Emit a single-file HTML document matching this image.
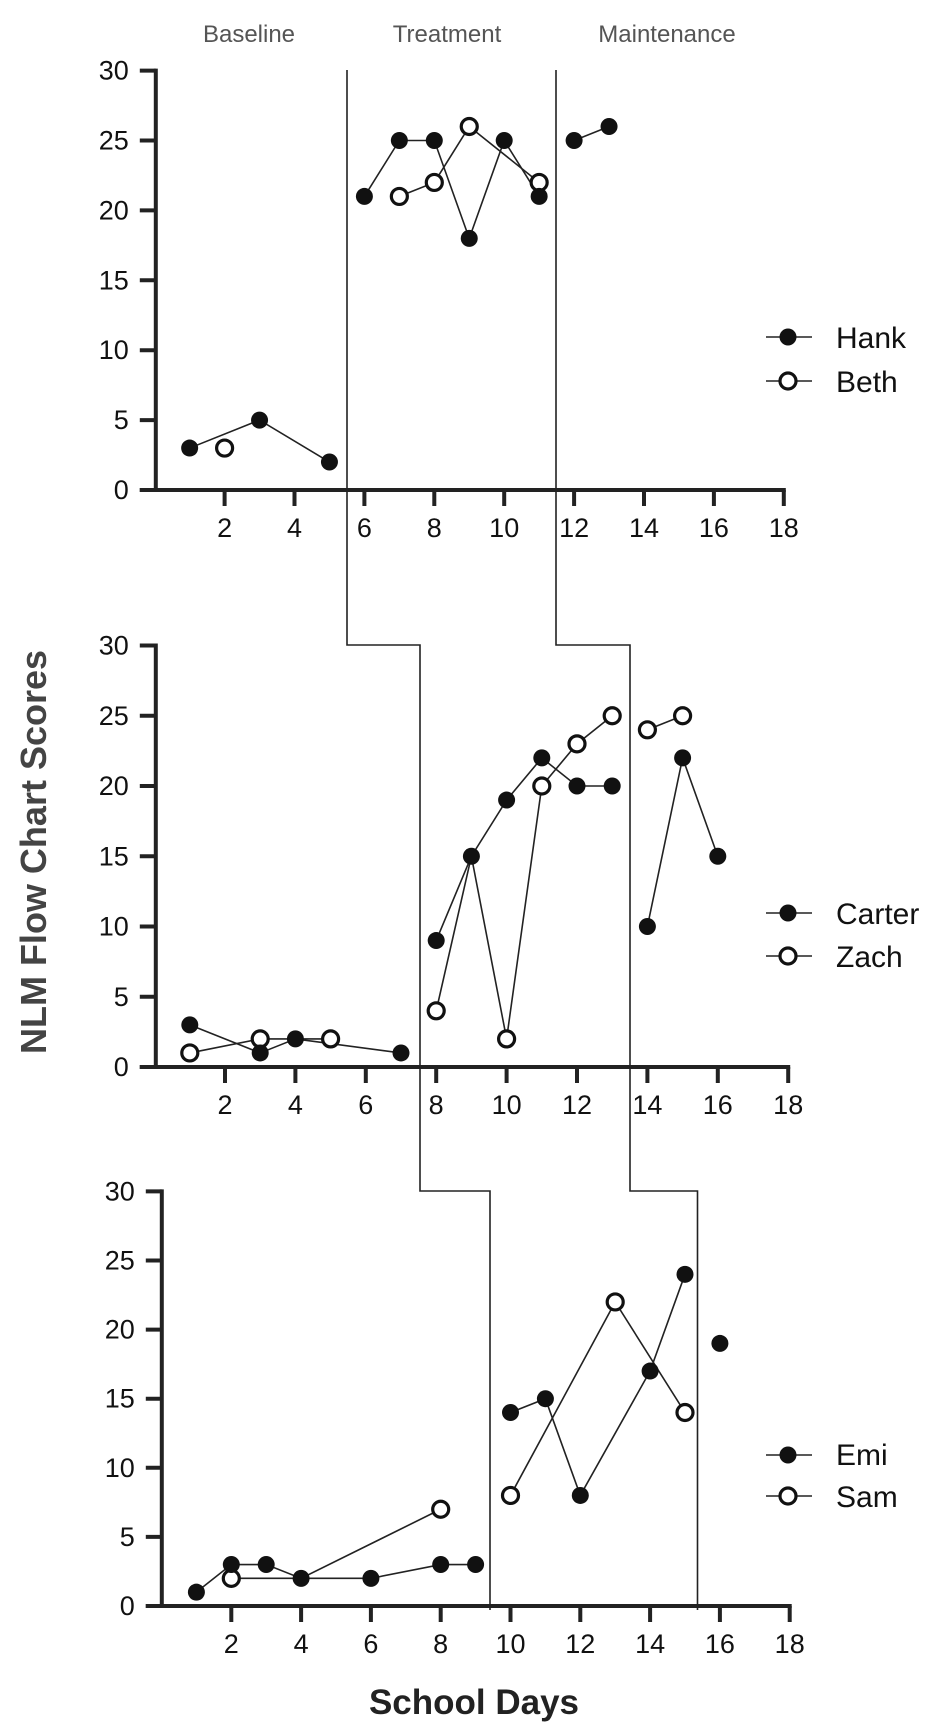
<!DOCTYPE html>
<html><head><meta charset="utf-8"><style>
html,body{margin:0;padding:0;background:#fff;}
svg{display:block;font-family:"Liberation Sans",Arial,sans-serif;}
</style></head><body>
<svg id="s" width="942" height="1724" viewBox="0 0 942 1724" xmlns="http://www.w3.org/2000/svg">
<rect width="942" height="1724" fill="#fff"/>
<g font-size="24" fill="#555" text-anchor="middle">
<text x="249" y="42">Baseline</text>
<text x="447" y="42">Treatment</text>
<text x="667" y="42">Maintenance</text>
</g>
<text transform="translate(46,852) rotate(-90)" font-size="36" font-weight="bold" fill="#444" text-anchor="middle">NLM Flow Chart Scores</text>
<text x="474" y="1714" font-size="35" font-weight="bold" fill="#222" text-anchor="middle">School Days</text>
<g font-size="30" fill="#111">
<text x="836" y="348">Hank</text>
<text x="836" y="392">Beth</text>
<text x="836" y="924">Carter</text>
<text x="836" y="967">Zach</text>
<text x="836" y="1465">Emi</text>
<text x="836" y="1507">Sam</text>
</g>
<g id="g"></g>
<g id="t" font-size="27" fill="#111"></g>
<g fill="none" stroke="#222" stroke-width="1.6">
<polyline points="347,70 347,645 420,645 420,1191 490,1191 490,1610"/>
<polyline points="556,70 556,645 630,645 630,1191 697.5,1191 697.5,1610"/>
</g>
</svg>
<script>
var NS="http://www.w3.org/2000/svg",g=document.getElementById('g'),t=document.getElementById('t');
function el(p,n,a,txt){var e=document.createElementNS(NS,n);for(var k in a)e.setAttribute(k,a[k]);if(txt!==undefined)e.textContent=txt;p.appendChild(e);return e;}
var panels=[
{x0:154.7,sx:34.95,y0:490,sy:13.98,ax:155.8,
 lines:[[[1,3],[3,5],[5,2]],[[6,21],[7,25],[8,25],[9,18],[10,25],[11,21]],[[7,21],[8,22],[9,26],[11,22]],[[12,25],[13,26]]],
 fill:[[1,3],[3,5],[5,2],[6,21],[7,25],[8,25],[9,18],[10,25],[11,21],[12,25],[13,26]],
 open:[[2,3],[7,21],[8,22],[9,26],[11,22]],leg:[337,381]},
{x0:154.6,sx:35.2,y0:1067,sy:14.05,ax:155.8,
 lines:[[[1,3],[3,1],[4,2],[7,1]],[[1,1],[3,2],[5,2]],[[8,9],[9,15],[10,19],[11,22],[12,20],[13,20]],[[8,4],[9,15],[10,2],[11,20],[12,23],[13,25]],[[14,24],[15,25]],[[14,10],[15,22],[16,15]]],
 fill:[[1,3],[3,1],[4,2],[7,1],[8,9],[9,15],[10,19],[11,22],[12,20],[13,20],[14,10],[15,22],[16,15]],
 open:[[1,1],[3,2],[5,2],[8,4],[10,2],[11,20],[12,23],[13,25],[14,24],[15,25]],leg:[913,956]},
{x0:161.5,sx:34.9,y0:1606,sy:13.82,ax:161.8,
 lines:[[[1,1],[2,3],[3,3],[4,2],[6,2],[8,3],[9,3]],[[2,2],[4,2],[8,7]],[[10,14],[11,15],[12,8],[14,17],[15,24]],[[10,8],[13,22],[15,14]]],
 fill:[[1,1],[2,3],[3,3],[4,2],[6,2],[8,3],[9,3],[10,14],[11,15],[12,8],[14,17],[15,24],[16,19]],
 open:[[2,2],[8,7],[10,8],[13,22],[15,14]],leg:[1455,1496]}];
panels.forEach(function(P){
 function X(v){return P.x0+v*P.sx;} function Y(v){return P.y0-v*P.sy;}
 P.lines.forEach(function(L){el(g,'polyline',{points:L.map(function(p){return X(p[0])+','+Y(p[1]);}).join(' '),fill:'none',stroke:'#222','stroke-width':1.6});});
 P.open.forEach(function(p){el(g,'circle',{cx:X(p[0]),cy:Y(p[1]),r:8,fill:'#fff',stroke:'#111','stroke-width':3.2});});
 P.fill.forEach(function(p){el(g,'circle',{cx:X(p[0]),cy:Y(p[1]),r:8.5,fill:'#111'});});
 el(g,'line',{x1:P.ax,y1:Y(30)-2,x2:P.ax,y2:P.y0+2,stroke:'#222','stroke-width':4});
 el(g,'line',{x1:P.ax-16,y1:P.y0,x2:X(18)+2,y2:P.y0,stroke:'#222','stroke-width':4});
 for(var v=0;v<=30;v+=5){el(g,'line',{x1:P.ax-16,y1:Y(v),x2:P.ax,y2:Y(v),stroke:'#222','stroke-width':4});
  el(t,'text',{x:P.ax-27,y:Y(v)+9,'text-anchor':'end'},String(v));}
 for(var h=2;h<=18;h+=2){el(g,'line',{x1:X(h),y1:P.y0,x2:X(h),y2:P.y0+16,stroke:'#222','stroke-width':4});
  el(t,'text',{x:X(h),y:P.y0+47,'text-anchor':'middle'},String(h));}
 P.leg.forEach(function(y,i){el(g,'line',{x1:766,y1:y,x2:812,y2:y,stroke:'#222','stroke-width':1.6});
  if(i==0)el(g,'circle',{cx:788,cy:y,r:8.5,fill:'#111'});else el(g,'circle',{cx:788,cy:y,r:8,fill:'#fff',stroke:'#111','stroke-width':3.2});});
});
</script>
</body></html>
